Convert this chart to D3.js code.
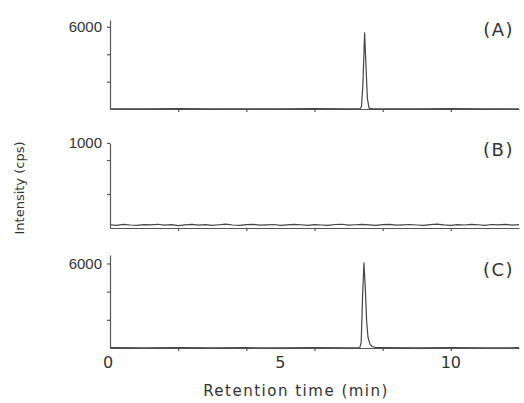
<!DOCTYPE html>
<html lang="en">
<head>
  <meta charset="utf-8">
  <script src="https://d3js.org/d3.v7.min.js"></script>
  <style>
    body { margin: 0; background: #fff; }
    svg { display: block; font-family: "DejaVu Sans", sans-serif; }
    .axis path, .axis line { stroke: #555; stroke-width: 1.2; fill: none; }
    .axis text { fill: #333; }
    .trace { fill: none; stroke: #444; stroke-width: 1.2; stroke-linejoin: round; }
  </style>
</head>
<body>
  <svg id="chart" width="524" height="403"></svg>
  <script>
    // retention time (min) / intensity (cps)
    var traceA = [[0,20],[1,15],[2,25],[3,12],[4,20],[5,15],[6,22],[7,15],[7.34,20],[7.38,200],[7.42,1800],[7.47,5560],[7.51,3200],[7.55,800],[7.6,60],[7.7,20],[8,18],[9,15],[10,22],[11,15],[12,20]];
    var traceB = [[0,38],[0.2,32],[0.4,42],[0.6,35],[0.8,30],[1,40],[1.2,36],[1.4,44],[1.6,33],[1.8,39],[2,29],[2.2,37],[2.4,42],[2.6,34],[2.8,40],[3,31],[3.2,38],[3.4,45],[3.6,35],[3.8,30],[4,39],[4.2,43],[4.4,33],[4.6,37],[4.8,41],[5,31],[5.2,36],[5.4,42],[5.6,38],[5.8,32],[6,40],[6.2,35],[6.4,30],[6.6,41],[6.8,44],[7,34],[7.2,38],[7.4,42],[7.6,36],[7.8,31],[8,39],[8.2,43],[8.4,33],[8.6,37],[8.8,41],[9,35],[9.2,30],[9.4,39],[9.6,45],[9.8,37],[10,32],[10.2,40],[10.4,35],[10.6,42],[10.8,38],[11,31],[11.2,41],[11.4,36],[11.6,43],[11.8,34],[12,39]];
    var traceC = [[0,20],[1,18],[2,22],[3,15],[4,20],[5,16],[6,21],[7,17],[7.33,20],[7.37,400],[7.41,3600],[7.45,6050],[7.49,4300],[7.53,1900],[7.57,750],[7.63,260],[7.7,90],[7.82,30],[8,20],[9,16],[10,20],[11,17],[12,20]];

    var panelNames = ["(A)", "(B)", "(C)"];
    var yMax = [6500, 1000, 6600];
    var yLabelTicks = [[6000], [1000], [6000]];
    var yMinorTicks = [[2000, 4000], [400, 800], [2000, 4000]];
    var xLabelTicks = [0, 5, 10];
    var xMinorTicks = [2, 4, 6, 8, 10];

    var traces = [traceA, traceB, traceC];

    var svg = d3.select("#chart");
    var x = d3.scaleLinear().domain([0, 12]).range([110, 519]);

    // vertical extents of each panel: [bottom, top]
    var bands = [[109, 20], [228, 143], [348, 255]];
    // panel name baseline below the labelled tick
    var nameDy = [9, 13, 13];

    var line = d3.line();

    traces.forEach(function(data, i) {
      var y = d3.scaleLinear().domain([0, yMax[i]]).range(bands[i]);
      var g = svg.append("g");

      g.append("g")
        .attr("class", "axis")
        .attr("transform", "translate(0," + y(0) + ")")
        .call(d3.axisBottom(x).tickValues(xMinorTicks).tickSize(3).tickSizeOuter(0).tickFormat(""));

      g.append("g")
        .attr("class", "axis")
        .attr("transform", "translate(" + x(0) + ",0)")
        .call(d3.axisLeft(y).tickValues(yMinorTicks[i].concat(yLabelTicks[i])).tickSize(3).tickSizeOuter(0)
          .tickFormat(function(d) { return yLabelTicks[i].indexOf(d) >= 0 ? d : ""; }))
        .selectAll("text")
          .style("font-size", "15px")
          .attr("x", -8);

      g.append("path")
        .datum(data)
        .attr("class", "trace")
        .attr("d", line.x(function(d) { return x(d[0]); }).y(function(d) { return y(d[1]); }));

      g.append("text")
        .attr("x", 514)
        .attr("y", y(yLabelTicks[i][0]) + nameDy[i])
        .attr("text-anchor", "end")
        .style("font-size", "18px")
        .style("letter-spacing", "1.5px")
        .style("fill", "#333")
        .text(panelNames[i]);

      if (i === 2) {
        var xa = g.append("g")
          .attr("transform", "translate(0," + y(0) + ")");
        xa.selectAll("text")
          .data(xLabelTicks)
          .enter().append("text")
            .attr("x", function(d) { return x(d) - (d === 0 ? 2 : 0); })
            .attr("y", 20)
            .attr("text-anchor", "middle")
            .style("font-size", "16px")
            .style("fill", "#333")
            .text(function(d) { return d; });
      }
    });

    svg.append("text")
      .attr("x", 296)
      .attr("y", 396)
      .attr("text-anchor", "middle")
      .style("font-size", "15px")
      .style("letter-spacing", "1.5px")
      .style("fill", "#333")
      .text("Retention time (min)");

    svg.append("text")
      .attr("transform", "translate(24,188)rotate(-90)")
      .attr("text-anchor", "middle")
      .style("font-size", "13px")
      .style("fill", "#333")
      .text("Intensity (cps)");
  </script>
</body>
</html>
